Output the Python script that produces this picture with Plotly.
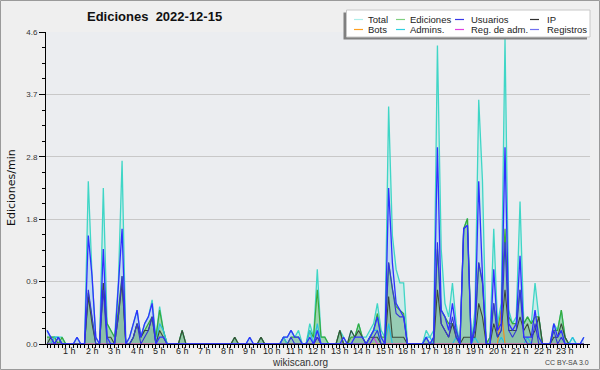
import plotly.graph_objects as go

# 10-minute bins (144 per day), values in edits/min
total = [0.2, 0.1, 0.1, 0.1, 0.1, 0,   0, 0, 0.1, 0, 0, 2.4,
         1.0, 0.1, 0, 2.3, 0.3, 0.2,   0.1, 0.9, 2.7, 0, 0.1, 0.3,
         0.5, 0.1, 0.3, 0.4, 0.65, 0.1,   0.55, 0.2, 0, 0, 0, 0,
         0.2, 0, 0, 0, 0, 0,   0, 0, 0, 0, 0, 0,
         0, 0, 0.1, 0, 0, 0,   0.1, 0, 0, 0.1, 0, 0,
         0, 0, 0, 0.1, 0.1, 0.2,   0.1, 0.2, 0, 0, 0.3, 0.1,
         1.1, 0.1, 0.1, 0, 0, 0,   0.2, 0.1, 0, 0.2, 0.1, 0.3,
         0.1, 0.1, 0.2, 0.3, 0.6, 0.2,   0.1, 3.5, 1.6, 1.1, 0.9, 0.9,
         0, 0, 0, 0, 0, 0.2,   0.1, 0.2, 4.4, 1.4, 0.6, 0.4,
         0.9, 0.3, 0, 1.7, 1.85, 0,   0.5, 3.6, 2.4, 0, 0.1, 1.7,
         0.3, 0.6, 4.5, 0.5, 0.3, 0.4,   2.1, 0.3, 0.4, 0.3, 0.9, 0.4,
         0, 0, 0, 0.3, 0.2, 0.5,   0.1, 0, 0.1, 0, 0, 0.1]
ediciones = [0.1, 0.1, 0.1, 0, 0.1, 0,   0, 0, 0, 0, 0, 0.75,
             0.4, 0, 0, 0.9, 0.3, 0.2,   0.1, 0.5, 1.0, 0, 0, 0.1,
             0.3, 0.1, 0.2, 0.3, 0.4, 0.1,   0.5, 0.2, 0, 0, 0, 0,
             0.2, 0, 0, 0, 0, 0,   0, 0, 0, 0, 0, 0,
             0, 0, 0.1, 0, 0, 0,   0, 0, 0, 0.1, 0, 0,
             0, 0, 0, 0.1, 0, 0.1,   0.1, 0.1, 0, 0, 0.2, 0.1,
             0.8, 0.1, 0.1, 0, 0, 0,   0.2, 0, 0, 0.1, 0.1, 0.3,
             0.1, 0, 0.1, 0.2, 0.45, 0.1,   0.1, 1.2, 0.8, 0.55, 0.5, 0.45,
             0, 0, 0, 0, 0, 0.1,   0, 0.1, 1.4, 0.5, 0.4, 0.3,
             0.3, 0.2, 0, 1.7, 1.85, 0,   0.3, 1.2, 0.9, 0, 0.1, 0.6,
             0.2, 0.5, 1.7, 0.4, 0.3, 0.3,   0.8, 0.3, 0.4, 0.3, 0.4, 0.4,
             0, 0, 0, 0.2, 0.2, 0.5,   0.1, 0, 0, 0, 0, 0]
usuarios = [0.2, 0.1, 0, 0.1, 0, 0,   0, 0, 0.1, 0, 0, 1.6,
            1.0, 0.1, 0, 1.4, 0.1, 0,   0, 0.8, 1.7, 0, 0.1, 0.3,
            0.5, 0.1, 0.3, 0.4, 0.6, 0,   0.1, 0.1, 0, 0, 0, 0,
            0, 0, 0, 0, 0, 0,   0, 0, 0, 0, 0, 0,
            0, 0, 0, 0, 0, 0,   0.1, 0, 0, 0, 0, 0,
            0, 0, 0, 0.1, 0.1, 0.2,   0.1, 0.1, 0, 0, 0.1, 0,
            0.2, 0, 0, 0, 0, 0,   0, 0.1, 0, 0, 0.1, 0.1,
            0.1, 0, 0.1, 0.2, 0.4, 0.1,   0, 2.3, 1.2, 0.6, 0.5, 0.4,
            0, 0, 0, 0, 0, 0.1,   0, 0.1, 2.9, 0.5, 0.4, 0.2,
            0.6, 0.2, 0, 1.7, 1.75, 0,   0.3, 2.4, 1.0, 0, 0, 1.1,
            0.2, 0.3, 2.9, 0.3, 0.2, 0.3,   1.3, 0.1, 0.1, 0.1, 0.5, 0.1,
            0, 0, 0, 0.3, 0.1, 0.2,   0, 0, 0, 0, 0, 0.1]
ip = [0, 0.1, 0, 0.1, 0, 0,   0, 0, 0, 0, 0, 0.7,
      0.3, 0, 0, 0.9, 0.1, 0.1,   0, 0.4, 0.9, 0, 0, 0.1,
      0.3, 0.1, 0.2, 0.2, 0.4, 0,   0.2, 0.1, 0, 0, 0, 0,
      0.2, 0, 0, 0, 0, 0,   0, 0, 0, 0, 0, 0,
      0, 0, 0.1, 0, 0, 0,   0, 0, 0, 0.1, 0, 0,
      0, 0, 0, 0, 0, 0,   0, 0, 0, 0, 0, 0,
      0.1, 0, 0, 0, 0, 0,   0.2, 0, 0, 0.2, 0.1, 0.2,
      0.1, 0, 0.1, 0.1, 0.1, 0,   0, 0.7, 0.1, 0.1, 0.1, 0.1,
      0, 0, 0, 0, 0, 0,   0, 0, 0.8, 0.3, 0.2, 0.1,
      0.3, 0.1, 0, 0.1, 0.1, 0.1,   0.1, 0.6, 0.4, 0, 0, 0.3,
      0.1, 0.2, 0.8, 0.2, 0.2, 0.2,   0.4, 0.2, 0.3, 0.1, 0.2, 0.4,
      0, 0, 0, 0.1, 0.1, 0.3,   0.1, 0, 0, 0, 0, 0]
registros = [0, 0, 0, 0, 0, 0,   0, 0, 0, 0, 0, 0.8,
             0.4, 0, 0, 0.8, 0, 0,   0, 0.4, 1.0, 0, 0, 0.1,
             0.3, 0, 0.1, 0.2, 0.4, 0,   0, 0, 0, 0, 0, 0,
             0, 0, 0, 0, 0, 0,   0, 0, 0, 0, 0, 0,
             0, 0, 0, 0, 0, 0,   0, 0, 0, 0, 0, 0,
             0, 0, 0, 0, 0, 0.1,   0, 0, 0, 0, 0, 0,
             0.1, 0, 0, 0, 0, 0,   0, 0, 0, 0, 0, 0,
             0, 0, 0, 0.1, 0.2, 0,   0, 1.2, 0.85, 0.45, 0.4, 0.4,
             0, 0, 0, 0, 0, 0,   0, 0, 1.5, 0.3, 0.2, 0.1,
             0.4, 0.1, 0, 1.7, 1.75, 0,   0.2, 1.2, 0.9, 0, 0, 0.6,
             0.1, 0.2, 1.5, 0.2, 0.1, 0.2,   0.8, 0.1, 0, 0, 0.3, 0,
             0, 0, 0, 0.2, 0, 0.1,   0, 0, 0, 0, 0, 0]
admins = [0, 0, 0.1, 0.1, 0, 0,   0, 0, 0, 0, 0, 0,
          0, 0, 0, 0, 0, 0,   0, 0, 0, 0, 0, 0,
          0, 0, 0, 0, 0, 0,   0.3, 0.2, 0, 0, 0, 0,
          0, 0, 0, 0, 0, 0,   0, 0, 0, 0, 0, 0,
          0, 0, 0, 0, 0, 0,   0, 0, 0, 0, 0, 0,
          0, 0, 0, 0.1, 0, 0,   0, 0, 0, 0, 0.2, 0,
          0.3, 0, 0, 0, 0, 0,   0, 0, 0, 0, 0, 0,
          0, 0, 0.1, 0.2, 0.2, 0,   0, 0.3, 0, 0, 0, 0,
          0, 0, 0, 0, 0, 0.1,   0.1, 0, 0, 0, 0, 0,
          0, 0.1, 0, 0, 0, 0,   0.1, 0, 0, 0, 0, 0,
          0, 0.1, 0, 0, 0, 0,   0, 0, 0.1, 0, 0, 0,
          0, 0, 0, 0, 0, 0,   0, 0, 0.1, 0, 0, 0]
bots = [0] * 121 + [0.5] + [0] * 22
reg_adm = [0] * 72 + [0.1] + [0] * 14 + [0.1] + [0] * 56

hours = [h for h in range(1, 24)]
hour_labels = [f"{h} h" for h in hours]
ytick_vals = [0, 0.92, 1.84, 2.76, 3.68, 4.6]
ytick_text = ["0.0", "0.9", "1.8", "2.8", "3.7", "4.6"]

x = [i / 6 for i in range(len(total))]

FONT = "Liberation Sans"
fig = go.Figure()

# fills
fills = [
    (total, "rgba(160,232,226,0.40)"),
    (usuarios, "rgba(140,150,255,0.20)"),
    (ediciones, "rgba(95,185,100,0.42)"),
    (ip, "rgba(40,90,70,0.10)"),
]
for ys, fc in fills:
    fig.add_trace(go.Scatter(x=x, y=ys, mode="lines", fill="tozeroy",
                             fillcolor=fc, line=dict(width=0, color=fc),
                             hoverinfo="skip", showlegend=False))

lines = [
    ("Total", total, "#3fd6c6", 1.3),
    ("Ediciones", ediciones, "#3aaa3a", 1.2),
    ("Admins.", admins, "#28c0e0", 1.2),
    ("Bots", bots, "#f09020", 1.2),
    ("Reg. de adm.", reg_adm, "#d040e0", 1.2),
    ("IP", ip, "#3a4a3a", 1.1),
    ("Registros", registros, "#3434d8", 1.1),
    ("Usuarios", usuarios, "#3030ff", 1.3),
]
for name, ys, c, w in lines:
    fig.add_trace(go.Scatter(x=x, y=ys, mode="lines", name=name,
                             line=dict(width=w, color=c), showlegend=False))

L, R, T, B = 46, 10, 32, 26
W, H = 600, 370
pw, ph = W - L - R, H - T - B
PX_PER_HOUR = 22.525
xmin = -1 / PX_PER_HOUR
xmax = xmin + pw / PX_PER_HOUR


def px(v):
    return (v - L) / pw


def py(v):
    return (H - B - v) / ph


shapes = [
    # outer border
    dict(type="rect", xref="paper", yref="paper", x0=px(0.5), x1=px(599.5),
         y0=py(369.5), y1=py(0.5), line=dict(color="#9a9a9a", width=1), layer="above"),
    # legend shadow
    dict(type="rect", xref="paper", yref="paper", x0=px(343.5), x1=px(587),
         y0=py(39.5), y1=py(12.5), fillcolor="#808080", line=dict(width=0), layer="above"),
    # legend box
    dict(type="rect", xref="paper", yref="paper", x0=px(346.5), x1=px(590),
         y0=py(37), y1=py(10), fillcolor="white", line=dict(color="#c8c8c8", width=1),
         layer="above"),
]
legend_items = [
    ("Total", "#aeeeea", 354, 366, 19.5),
    ("Ediciones", "#80d080", 396, 408, 19.5),
    ("Usuarios", "#3838e8", 455, 469, 19.5),
    ("IP", "#303030", 530, 545, 19.5),
    ("Bots", "#ffa020", 354, 366, 29.5),
    ("Admins.", "#30d0e0", 396, 408, 29.5),
    ("Reg. de adm.", "#e040e0", 455, 469, 29.5),
    ("Registros", "#7070f0", 530, 545, 29.5),
]
annotations = []
for name, c, lx, tx, ly in legend_items:
    shapes.append(dict(type="line", xref="paper", yref="paper", x0=px(lx), x1=px(lx + 9),
                       y0=py(ly), y1=py(ly), line=dict(color=c, width=1.2), layer="above"))
    annotations.append(dict(text=name, xref="paper", yref="paper", x=px(tx), y=py(ly),
                            xanchor="left", yanchor="middle", showarrow=False,
                            font=dict(family=FONT, size=9.5, color="#222")))

# hour labels under the x axis
for h, lab in zip(hours, hour_labels):
    annotations.append(dict(text=lab, xref="x", yref="paper", x=h, y=py(351),
                            xanchor="center", yanchor="middle", showarrow=False,
                            font=dict(family=FONT, size=9, color="#222")))

annotations += [
    dict(text="<b>Ediciones  2022-12-15</b>", xref="paper", yref="paper",
         x=px(154), y=py(17), xanchor="center", yanchor="middle", showarrow=False,
         font=dict(family=FONT, size=13, color="#111")),
    dict(text="Ediciones/min", xref="paper", yref="paper", x=px(11), y=0.5,
         textangle=-90, xanchor="center", yanchor="middle", showarrow=False,
         font=dict(family="DejaVu Sans", size=11, color="#111")),
    dict(text="wikiscan.org", xref="paper", yref="paper", x=px(300), y=py(362),
         xanchor="center", yanchor="middle", showarrow=False,
         font=dict(family=FONT, size=10, color="#333")),
    dict(text="CC BY-SA 3.0", xref="paper", yref="paper", x=px(591), y=py(362),
         xanchor="right", yanchor="middle", showarrow=False,
         font=dict(family=FONT, size=7, color="#444")),
]

fig.update_layout(
    width=W, height=H,
    margin=dict(l=L, r=R, t=T, b=B, pad=0),
    paper_bgcolor="#efefef",
    plot_bgcolor="#ebedf0",
    showlegend=False,
    shapes=shapes,
    annotations=annotations,
    xaxis=dict(range=[xmin, xmax], tickmode="array", tickvals=hours, showticklabels=False,
               showgrid=False, zeroline=False, showline=True, linecolor="black", linewidth=1,
               ticks="outside", ticklen=3, tickcolor="black",
               minor=dict(tickmode="linear", tick0=0, dtick=1 / 6, ticks="outside",
                          ticklen=3, tickcolor="black", showgrid=False)),
    yaxis=dict(range=[0, 4.6], tickmode="array", tickvals=ytick_vals, ticktext=ytick_text,
               showgrid=True, gridcolor="#c8c8c8", gridwidth=1, zeroline=False,
               showline=True, linecolor="black", linewidth=1,
               ticks="outside", ticklen=6, tickcolor="black",
               tickfont=dict(family=FONT, size=8, color="#333"),
               minor=dict(tickmode="linear", tick0=0, dtick=0.23, ticks="outside",
                          ticklen=3, tickcolor="black", showgrid=False)),
)

fig.write_html("out.html")
